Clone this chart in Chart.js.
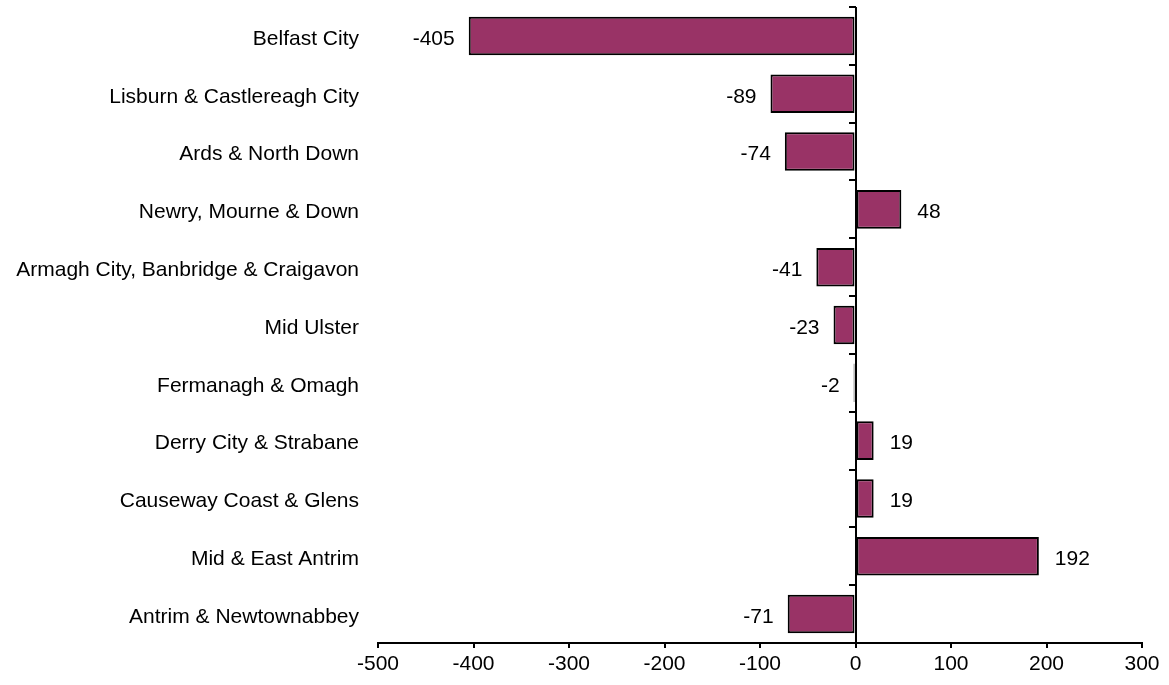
<!DOCTYPE html>
<html>
<head>
<meta charset="utf-8">
<script src="https://cdn.jsdelivr.net/npm/chart.js@4/dist/chart.umd.min.js"></script>
<style>
  html, body { margin: 0; padding: 0; background: #ffffff; }
  #wrap { width: 1169px; height: 685px; position: relative; }
</style>
</head>
<body>
<div id="wrap"><canvas id="chart" width="1169" height="685"></canvas></div>
<script>
// Council areas, top to bottom
const councils = [
  "Belfast City",
  "Lisburn & Castlereagh City",
  "Ards & North Down",
  "Newry, Mourne & Down",
  "Armagh City, Banbridge & Craigavon",
  "Mid Ulster",
  "Fermanagh & Omagh",
  "Derry City & Strabane",
  "Causeway Coast & Glens",
  "Mid & East Antrim",
  "Antrim & Newtownabbey"
];
const netChange = [-405, -89, -74, 48, -41, -23, -2, 19, 19, 192, -71];
const xTicks = [-500, -400, -300, -200, -100, 0, 100, 200, 300];

const FONT = "'Liberation Sans', Arial, sans-serif";
const FONT_SIZE = 21;

// Vertical zero line with small ticks at category boundaries
const zeroLinePlugin = {
  id: 'zeroLine',
  afterDatasetsDraw(chart) {
    const { ctx, scales: { x }, chartArea } = chart;
    const x0 = Math.round(x.getPixelForValue(0));
    ctx.save();
    ctx.strokeStyle = '#000';
    ctx.lineWidth = 2;
    ctx.beginPath();
    ctx.moveTo(x0, chartArea.top);
    ctx.lineTo(x0, chartArea.bottom + 5);
    const n = councils.length;
    const step = (chartArea.bottom - chartArea.top) / n;
    for (let i = 0; i < n; i++) {
      const yy = Math.round(chartArea.top + i * step);
      ctx.moveTo(x0 - 7, yy);
      ctx.lineTo(x0, yy);
    }
    ctx.stroke();
    ctx.restore();
  }
};

// Value labels just outside each bar end
const valueLabelPlugin = {
  id: 'valueLabels',
  afterDatasetsDraw(chart) {
    const { ctx } = chart;
    const meta = chart.getDatasetMeta(0);
    ctx.save();
    ctx.font = FONT_SIZE + 'px ' + FONT;
    ctx.fillStyle = '#000';
    ctx.textBaseline = 'middle';
    meta.data.forEach((bar, i) => {
      const v = netChange[i];
      const txt = String(v);
      if (v < 0) {
        ctx.textAlign = 'right';
        ctx.fillText(txt, bar.x - 14, bar.y + 3);
      } else {
        ctx.textAlign = 'left';
        ctx.fillText(txt, bar.x + 16, bar.y + 3);
      }
    });
    ctx.restore();
  }
};

new Chart(document.getElementById('chart'), {
  type: 'bar',
  data: {
    labels: councils,
    datasets: [{
      data: netChange,
      backgroundColor: '#993366',
      borderColor: '#000000',
      borderWidth: 2,
      borderSkipped: false,
      categoryPercentage: 1.0,
      barPercentage: 0.667
    }]
  },
  options: {
    indexAxis: 'y',
    responsive: false,
    animation: false,
    devicePixelRatio: 1,
    layout: { padding: { top: 7, right: 27, left: 0, bottom: 0 } },
    plugins: {
      legend: { display: false },
      tooltip: { enabled: false }
    },
    scales: {
      x: {
        min: -500,
        max: 300,
        afterBuildTicks(scale) { scale.ticks = xTicks.map(v => ({ value: v })); },
        afterFit(scale) { scale.height = 42; scale.paddingLeft = 0; scale.paddingRight = 0; },
        border: { display: true, color: '#000', width: 2 },
        grid: {
          display: true,
          drawOnChartArea: false,
          drawTicks: true,
          tickLength: 5,
          color: '#000',
          lineWidth: 2
        },
        ticks: {
          color: '#000',
          font: { family: FONT, size: FONT_SIZE },
          padding: 4,
          maxRotation: 0
        }
      },
      y: {
        afterFit(scale) { scale.width = 378; scale.paddingTop = 0; scale.paddingBottom = 0; },
        border: { display: false },
        grid: { display: false, drawTicks: false },
        ticks: {
          color: '#000',
          font: { family: FONT, size: FONT_SIZE },
          padding: 19,
          labelOffset: 3,
          autoSkip: false
        }
      }
    }
  },
  plugins: [zeroLinePlugin, valueLabelPlugin]
});
</script>
</body>
</html>
